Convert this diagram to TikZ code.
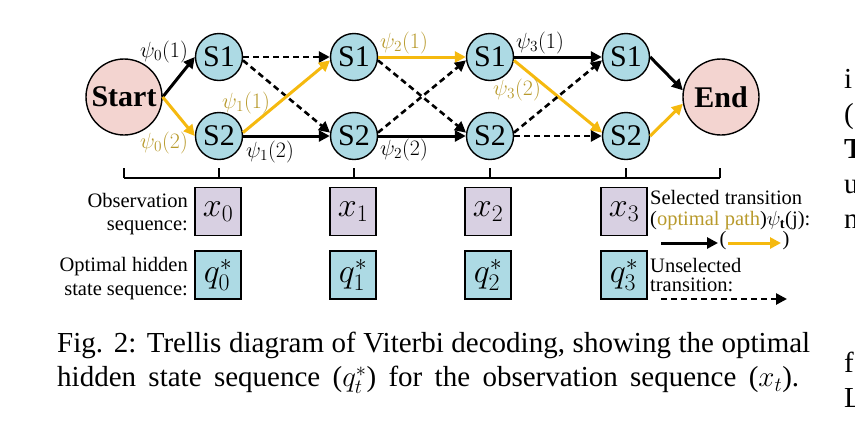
\documentclass[tikz,border=0pt]{standalone}
\usepackage{fix-cm}
\usepackage{fontspec}
\setmainfont{Liberation Serif}
\usetikzlibrary{arrows.meta}
\definecolor{nodeblue}{HTML}{ADDAE4}
\definecolor{startpink}{HTML}{F3D4D0}
\definecolor{obspurple}{HTML}{D8D0E2}
\definecolor{optyellow}{HTML}{F5B90F}
\definecolor{labgold}{HTML}{B89A2C}
\begin{document}
\begin{tikzpicture}[x=1pt,y=-1pt,
  state/.style={circle,draw,line width=1.4pt,fill=nodeblue,minimum size=47pt,inner sep=0pt,font=\fontsize{30}{30}\selectfont},
  term/.style={circle,draw,line width=1.4pt,fill=startpink,minimum size=76pt,inner sep=0pt,font=\fontsize{30}{30}\selectfont\bfseries},
  obsbox/.style={draw,line width=1.4pt,fill=obspurple,minimum width=46pt,minimum height=48pt,inner sep=0pt,font=\fontsize{34}{34}\selectfont},
  hidbox/.style={obsbox,fill=nodeblue},
  sel/.style={line width=3pt,-{Triangle[length=11pt,width=11pt]}},
  opt/.style={sel,optyellow},
  unsel/.style={line width=2.6pt,dash pattern=on 6pt off 4pt,-{Triangle[length=11pt,width=11pt]}},
  psilab/.style={inner sep=0pt,font=\fontsize{22}{22}\selectfont},
  goldlab/.style={psilab,text=labgold},
  sidelab/.style={inner sep=0pt,anchor=base east,font=\fontsize{20.5}{24}\selectfont},
  leglab/.style={inner sep=0pt,anchor=base west,font=\fontsize{20.5}{24}\selectfont},
  caplab/.style={inner sep=0pt,anchor=north west,align=left,font=\fontsize{29}{34}\selectfont},
  fraglab/.style={inner sep=0pt,anchor=base west,font=\fontsize{29}{35}\selectfont},
  axis/.style={line width=1.3pt}
]
\useasboundingbox (0,0) rectangle (855,424);
\begin{scope}
\clip (0,0) rectangle (855,424);
% nodes
\node[term] (st) at (124,97) {Start};
\node[term] (en) at (721,97) {End};
\node[state] (a1) at (219,57) {S1};
\node[state] (b1) at (219,136) {S2};
\node[state] (a2) at (354,57) {S1};
\node[state] (b2) at (354,136) {S2};
\node[state] (a3) at (490,57) {S1};
\node[state] (b3) at (490,136) {S2};
\node[state] (a4) at (626,57) {S1};
\node[state] (b4) at (626,136) {S2};
% edges
\draw[sel] (st.east) -- (a1.west);
\draw[opt] (st.east) -- (b1.west);
\draw[unsel] (a1.east) -- (a2.west);
\draw[unsel] (a1.-8) -- (b2.172);
\draw[opt] (b1.8) -- (a2.188);
\draw[sel] (b1.east) -- (b2.west);
\draw[opt] (a2.east) -- (a3.west);
\draw[unsel] (a2.-8) -- (b3.172);
\draw[unsel] (b2.8) -- (a3.188);
\draw[sel] (b2.east) -- (b3.west);
\draw[sel] (a3.east) -- (a4.west);
\draw[opt] (a3.-8) -- (b4.172);
\draw[unsel] (b3.8) -- (a4.188);
\draw[unsel] (b3.east) -- (b4.west);
\draw[sel] (a4.east) -- (en.170);
\draw[opt] (b4.east) -- (en.190);
% psi labels
\node[psilab] (p01) at (164,52) {$\psi_0(1)$};
\node[goldlab] (p02) at (164,143) {$\psi_0(2)$};
\node[goldlab] (p11) at (246,103) {$\psi_1(1)$};
\node[psilab] (p12) at (270,152) {$\psi_1(2)$};
\node[goldlab] (p21) at (404,43) {$\psi_2(1)$};
\node[psilab] (p22) at (404,150) {$\psi_2(2)$};
\node[psilab] (p31) at (540,43) {$\psi_3(1)$};
\node[goldlab] (p32) at (517,90) {$\psi_3(2)$};
% timeline
\coordinate (t0) at (124,178);
\coordinate (t5) at (720,178);
\draw[axis] (t0) -- (t5);
\foreach \tx in {124,219,354,490,626,720}
  \draw[axis] (\tx,168) -- (\tx,178);
% boxes
\node[obsbox] (x0) at (218,211.5) {$x_0$};
\node[obsbox] (x1) at (353,211.5) {$x_1$};
\node[obsbox] (x2) at (488,211.5) {$x_2$};
\node[obsbox] (x3) at (624,211.5) {$x_3$};
\node[hidbox] (q0) at (218,275) {$q_0^*$};
\node[hidbox] (q1) at (353,275) {$q_1^*$};
\node[hidbox] (q2) at (488,275) {$q_2^*$};
\node[hidbox] (q3) at (624,275) {$q_3^*$};
% side labels
\node[sidelab] (l1) at (188,207) {Observation};
\node[sidelab] (l2) at (188,230) {sequence:};
\node[sidelab] (l3) at (188,271) {Optimal hidden};
\node[sidelab] (l4) at (188,295) {state sequence:};
% legend
\node[leglab] (g1) at (650,204) {Selected transition};
\node[leglab] (g2) at (650,225) {(\textcolor{labgold}{optimal path})$\psi_{\mathbf{t}}$(j):};
\coordinate (k1) at (661,243);
\coordinate (k2) at (718,243);
\node[leglab,anchor=center] (k3) at (723,241) {(};
\coordinate (k4) at (728,243);
\coordinate (k5) at (781,243);
\node[leglab,anchor=center] (k6) at (786,241) {)};
\draw[sel] (k1) -- (k2);
\draw[opt] (k4) -- (k5);
\node[leglab,anchor=north west,align=left,font=\fontsize{20.5}{19}\selectfont] (g3) at (650,258) {Unselected\\transition:};
\coordinate (k7) at (661,299);
\coordinate (k8) at (787,299);
\draw[unsel] (k7) -- (k8);
% caption
\node[caplab] (cap) at (57,332.2) {\makebox[753pt][s]{Fig. 2: Trellis diagram of Viterbi decoding, showing the optimal}\\\makebox[742pt][s]{hidden state sequence ($q_t^*$) for the observation sequence ($x_t$).}};
% cut-off body text at the right edge
\node[fraglab] (f1) at (844,88) {i};
\node[fraglab] (f2) at (844,123) {(};
\node[fraglab] (f3) at (844,158) {\textbf{T}};
\node[fraglab] (f4) at (844,193) {u};
\node[fraglab] (f5) at (844,228) {n};
\node[fraglab] (f6) at (844,372) {f};
\node[fraglab] (f7) at (844,407) {L};
\end{scope}
\end{tikzpicture}
\end{document}
